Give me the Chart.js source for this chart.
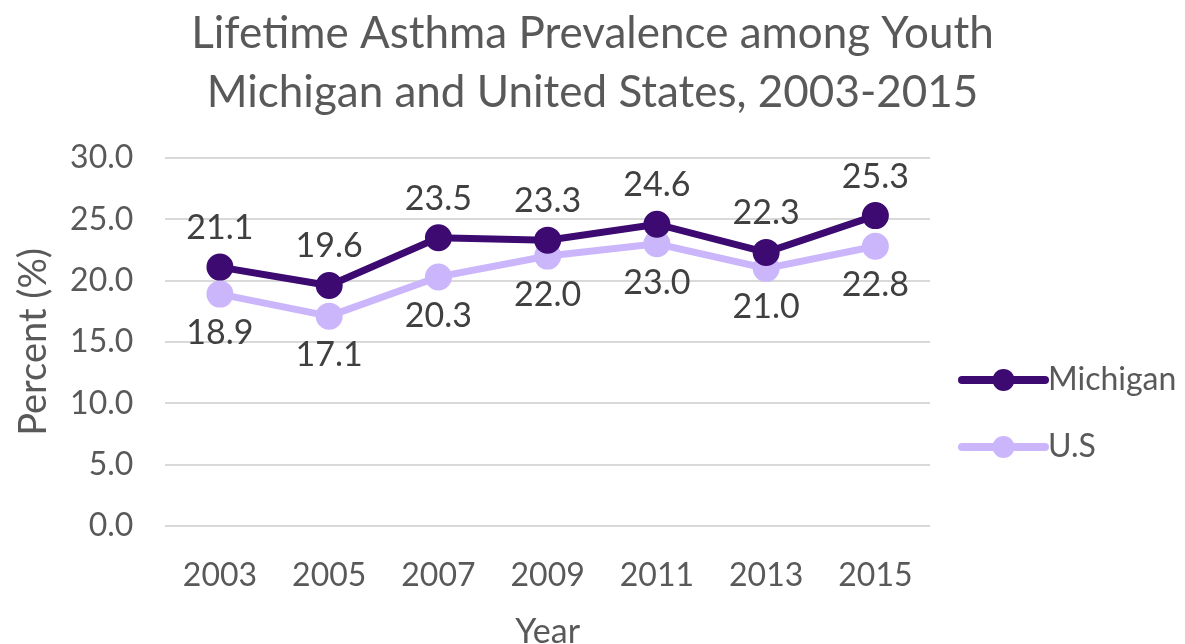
<!DOCTYPE html>
<html>
<head>
<meta charset="utf-8">
<script src="https://cdn.jsdelivr.net/npm/chart.js@4.4.1/dist/chart.umd.min.js"></script>
<style>
  html, body { margin: 0; padding: 0; background: #fff; }
  #wrap { width: 1185px; height: 644px; }
</style>
</head>
<body>
<div id="wrap"><canvas id="chart"></canvas></div>
<script>
const years = ["2003", "2005", "2007", "2009", "2011", "2013", "2015"];
const michigan = [21.1, 19.6, 23.5, 23.3, 24.6, 22.3, 25.3];
const us = [18.9, 17.1, 20.3, 22.0, 23.0, 21.0, 22.8];
const titleLines = ["Lifetime Asthma Prevalence among Youth", "Michigan and United States, 2003-2015"];

const FONT = "Lato, 'Open Sans', sans-serif";
const TEXT = "#595959";

// two-line title centred on the whole canvas
const pageTitle = {
  id: "pageTitle",
  afterDraw(chart) {
    const ctx = chart.ctx;
    ctx.save();
    ctx.font = "44px " + FONT;
    ctx.fillStyle = TEXT;
    ctx.textAlign = "center";
    ctx.textBaseline = "middle";
    titleLines.forEach((t, i) => ctx.fillText(t, chart.width / 2, 34 + i * 59));
    ctx.restore();
  }
};

// value labels: Michigan above the point, U.S below
const valueLabels = {
  id: "valueLabels",
  afterDatasetsDraw(chart) {
    const ctx = chart.ctx;
    ctx.save();
    ctx.font = "34px " + FONT;
    ctx.fillStyle = "#404040";
    ctx.textAlign = "center";
    ctx.textBaseline = "middle";
    chart.data.datasets.forEach((ds, i) => {
      const meta = chart.getDatasetMeta(i);
      const dy = i === 0 ? -39 : 39;
      meta.data.forEach((pt, j) => {
        ctx.fillText(ds.data[j].toFixed(1), pt.x, pt.y + dy);
      });
    });
    ctx.restore();
  }
};

// legend on the right: line with a dot, then the name
const sideLegend = {
  id: "sideLegend",
  afterDraw(chart) {
    const ctx = chart.ctx;
    const x0 = 962, x1 = 1045;
    const rows = [380, 447];
    ctx.save();
    chart.data.datasets.forEach((ds, i) => {
      const y = rows[i];
      ctx.strokeStyle = ds.borderColor;
      ctx.lineWidth = 8;
      ctx.lineCap = "round";
      ctx.beginPath();
      ctx.moveTo(x0, y);
      ctx.lineTo(x1, y);
      ctx.stroke();
      ctx.fillStyle = ds.borderColor;
      ctx.beginPath();
      ctx.arc((x0 + x1) / 2, y, 11, 0, Math.PI * 2);
      ctx.fill();
      ctx.font = "32px " + FONT;
      ctx.fillStyle = TEXT;
      ctx.textAlign = "left";
      ctx.textBaseline = "middle";
      ctx.fillText(ds.label, x1 + 3, y);
    });
    ctx.restore();
  }
};

new Chart(document.getElementById("chart"), {
  type: "line",
  data: {
    labels: years,
    datasets: [
      {
        label: "Michigan",
        data: michigan,
        borderColor: "#3d0a72",
        backgroundColor: "#3d0a72",
        borderWidth: 7,
        pointRadius: 10,
        pointHoverRadius: 10,
        tension: 0
      },
      {
        label: "U.S",
        data: us,
        borderColor: "#cbb6fc",
        backgroundColor: "#cbb6fc",
        borderWidth: 7,
        pointRadius: 10,
        pointHoverRadius: 10,
        tension: 0
      }
    ]
  },
  options: {
    responsive: true,
    maintainAspectRatio: false,
    animation: false,
    layout: { padding: { left: 16, right: 255, top: 158, bottom: 0 } },
    plugins: {
      legend: { display: false },
      tooltip: { enabled: false },
      title: { display: false }
    },
    scales: {
      x: {
        offset: true,
        grid: { display: false },
        border: { display: false },
        ticks: { color: TEXT, font: { family: FONT, size: 32 }, padding: 23 },
        title: { display: true, text: "Year", color: TEXT, font: { family: FONT, size: 34, lineHeight: 0.7 }, padding: { top: 2, bottom: 0 } }
      },
      y: {
        min: 0,
        max: 30,
        ticks: {
          stepSize: 5,
          color: TEXT,
          padding: 32,
          font: { family: FONT, size: 32 },
          callback: (v) => v.toFixed(1)
        },
        grid: { color: "#d9d9d9", lineWidth: 2, drawTicks: false },
        border: { display: false },
        title: { display: true, text: "Percent (%)", color: TEXT, font: { family: FONT, size: 38, lineHeight: 0.95 }, padding: { top: 0, bottom: -14 } }
      }
    }
  },
  plugins: [valueLabels, sideLegend, pageTitle]
});
</script>
</body>
</html>
